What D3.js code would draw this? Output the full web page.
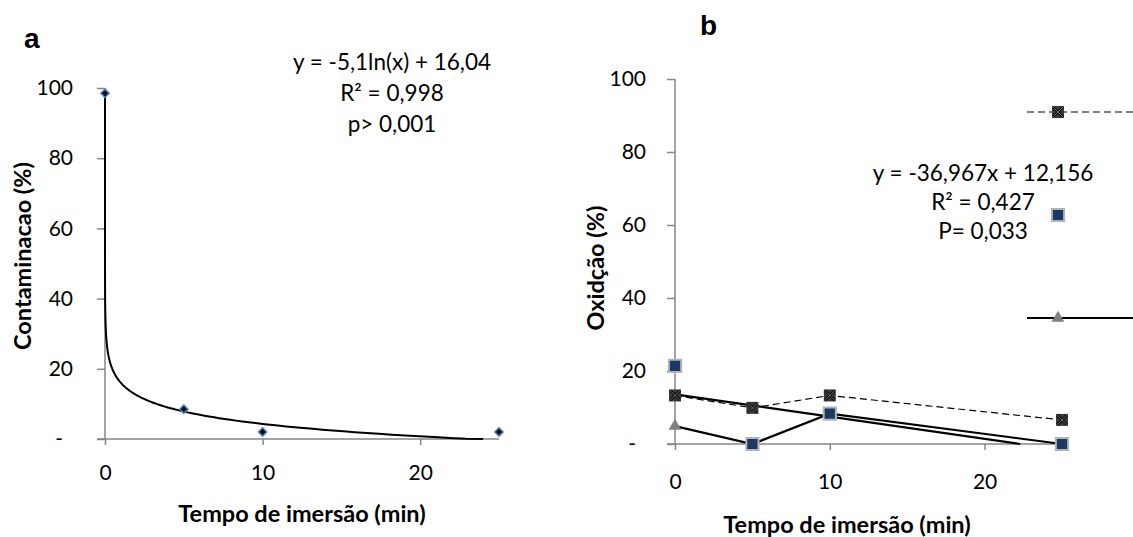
<!DOCTYPE html>
<html>
<head>
<meta charset="utf-8">
<script src="https://cdn.jsdelivr.net/npm/d3@7"></script>
<style>
  body { margin: 0; background: #fff; }
  svg { display: block; }
  text { font-family: Lato, "Open Sans", sans-serif; fill: #000; }
</style>
</head>
<body>
<script>
// panel a: contamination vs immersion time
const timesA = [0, 5, 10, 25];
const contamination = [98.5, 8.5, 2, 2];
const logFit = { a: -5.1, b: 16.04 };
const eqA = ['y = -5,1ln(x) + 16,04', 'R² = 0,998', 'p> 0,001'];

// panel b: oxidation vs immersion time
const timesB = [0, 5, 10, 25];
const oxX = [13.3, 9.9, 13.3, 6.6];      // dashed, x markers
const oxSquare = [21.4, 0, 8.3, 0];      // markers only
const oxTriangle = [4.9, 0, 8.3, 0];     // solid line, triangle markers
const trendB = [[0, 13.6], [22.3, 0]];   // straight trend line
const eqB = ['y = -36,967x + 12,156', 'R² = 0,427', 'P= 0,033'];

const yTicks = [0, 20, 40, 60, 80, 100];
const xTicks = [0, 10, 20];
const axisColor = '#868686';

const W = 1133, H = 537;
const svg = d3.select('body').append('svg').attr('width', W).attr('height', H);

function axes(g, x, y, O) {
    const yAxis = g.append('g')
        .attr('transform', `translate(${x(0)},0)`)
        .call(d3.axisLeft(y).tickValues(yTicks).tickSize(8).tickSizeOuter(0).tickPadding(O.yPad)
            .tickFormat(d => d === 0 ? '-' : d));
    const xAxis = g.append('g')
        .attr('transform', `translate(0,${y(0)})`)
        .call(d3.axisBottom(x).tickValues(xTicks).tickSize(6).tickSizeOuter(0).tickPadding(O.xPad));
    [yAxis, xAxis].forEach(a => {
        a.select('.domain').attr('stroke', axisColor).attr('stroke-width', 1.5);
        a.selectAll('.tick line').attr('stroke', axisColor).attr('stroke-width', 1.5);
        a.selectAll('.tick text').style('font-size', '21px').style('font-family', 'Lato, sans-serif').attr('fill', '#000');
    });
    // excel accounting format: the dash sits left of the digits
    yAxis.selectAll('.tick text').filter(d => d === 0).attr('dx', -10);
    yAxis.select('.domain').attr('d', `M0,${y(0)}V${y(100)}`);
    xAxis.select('.domain').attr('d', `M${x(0) - 8},0H${x(25)}`);
}

function equation(g, lines, cx, y0, dy) {
    lines.forEach((t, i) => {
        g.append('text')
            .attr('x', cx).attr('y', y0 + i * dy)
            .attr('text-anchor', 'middle')
            .style('font-size', '22.5px')
            .text(t);
    });
}

function titles(g, O) {
    g.append('text')
        .attr('x', O.xTitle[0]).attr('y', O.xTitle[1])
        .attr('text-anchor', 'middle')
        .style('font-size', '23.5px').style('font-weight', 'bold')
        .text('Tempo de imersão (min)');
    g.append('text')
        .attr('transform', `translate(${O.yTitle[0]},${O.yTitle[1]}) rotate(-90)`)
        .attr('text-anchor', 'middle')
        .style('font-size', '23.5px').style('font-weight', 'bold')
        .text(O.yLabel);
    g.append('text')
        .attr('x', O.letter[0]).attr('y', O.letter[1])
        .style('font-family', '"Liberation Sans", Arial, sans-serif')
        .style('font-size', '28px').style('font-weight', 'bold')
        .text(O.letterText);
}

// ---- panel a ----
{
    const g = svg.append('g');
    const x = d3.scaleLinear().domain([0, 25]).range([105, 499]);
    const y = d3.scaleLinear().domain([0, 100]).range([439, 88]);
    axes(g, x, y, { yPad: 24, xPad: 20 });

    // log trend line
    const xs = d3.range(-7, Math.log10(25) + 0.0001, 0.02).map(e => Math.pow(10, e));
    const trend = xs.map(v => [v, Math.max(0, logFit.a * Math.log(v) + logFit.b)]);
    g.append('path')
        .datum(trend)
        .attr('fill', 'none').attr('stroke', '#000').attr('stroke-width', 2)
        .attr('d', d3.line().x(d => x(d[0])).y(d => y(d[1])));

    const pts = timesA.map((t, i) => [t, contamination[i]]);
    g.selectAll('.pa').data(pts).join('path')
        .attr('transform', d => `translate(${x(d[0])},${y(d[1])})`)
        .attr('d', d3.symbol(d3.symbolDiamond2, 44)())
        .attr('fill', '#0d0d0d').attr('stroke', '#4f81bd').attr('stroke-width', 1.5);

    equation(g, eqA, 392, 70, 31);
    titles(g, {
        xTitle: [302, 522], yTitle: [31, 256], yLabel: 'Contaminacao (%)',
        letter: [24, 48], letterText: 'a'
    });
}

// ---- panel b ----
{
    const g = svg.append('g');
    const x = d3.scaleLinear().domain([0, 25]).range([675, 1062]);
    const y = d3.scaleLinear().domain([0, 100]).range([444, 79]);
    axes(g, x, y, { yPad: 21, xPad: 24 });

    const line = d3.line().x(d => x(d[0])).y(d => y(d[1]));
    const xSym = d3.symbol(d3.symbolX, 60)();
    const sqSym = d3.symbol(d3.symbolSquare, 150)();
    const triSym = d3.symbol(d3.symbolTriangle, 70)();

    // dashed series
    const ptsX = timesB.map((t, i) => [t, oxX[i]]);
    g.append('path').datum(ptsX)
        .attr('fill', 'none').attr('stroke', '#000').attr('stroke-width', 1.2)
        .attr('stroke-dasharray', '7,4').attr('d', line);

    // triangle series line
    const ptsT = timesB.map((t, i) => [t, oxTriangle[i]]);
    g.append('path').datum(ptsT)
        .attr('fill', 'none').attr('stroke', '#000').attr('stroke-width', 2.2).attr('d', line);

    // straight trend
    g.append('path').datum(trendB)
        .attr('fill', 'none').attr('stroke', '#000').attr('stroke-width', 2.2).attr('d', line);

    const markX = sel => sel
        .each(function () {
            const s = d3.select(this);
            s.append('rect').attr('x', -6).attr('y', -6).attr('width', 12).attr('height', 12).attr('fill', '#3a3a3a');
            s.append('path').attr('d', xSym).attr('stroke', '#000').attr('stroke-width', 2.5);
            s.append('path').attr('d', xSym).attr('stroke', '#9a9a9a').attr('stroke-width', 0.8);
        });
    const markT = sel => sel.append('path').attr('d', triSym).attr('fill', '#808080');
    const markS = sel => sel.append('path').attr('d', sqSym)
        .attr('fill', '#1b3a63').attr('stroke', '#b4b4b4').attr('stroke-width', 2);

    g.selectAll('.pt').data(ptsT).join('g')
        .attr('transform', d => `translate(${x(d[0])},${y(d[1])})`).call(markT);
    g.selectAll('.px').data(ptsX).join('g')
        .attr('transform', d => `translate(${x(d[0])},${y(d[1])})`).call(markX);
    const ptsS = timesB.map((t, i) => [t, oxSquare[i]]);
    g.selectAll('.ps').data(ptsS).join('g')
        .attr('transform', d => `translate(${x(d[0])},${y(d[1])})`).call(markS);

    // legend (cut off at right edge)
    const lg = g.append('g');
    const lx = 1058;
    lg.append('line').attr('x1', 1027).attr('x2', W).attr('y1', 112).attr('y2', 112)
        .attr('stroke', '#000').attr('stroke-width', 1.2).attr('stroke-dasharray', '7,4');
    lg.append('g').attr('transform', `translate(${lx},112)`).call(markX);
    lg.append('g').attr('transform', `translate(${lx},215)`).call(markS);
    lg.append('line').attr('x1', 1027).attr('x2', W).attr('y1', 318).attr('y2', 318)
        .attr('stroke', '#000').attr('stroke-width', 2.2);
    lg.append('g').attr('transform', `translate(${lx},318)`).call(markT);

    equation(g, eqB, 983, 181, 29);
    titles(g, {
        xTitle: [847, 533], yTitle: [604, 268], yLabel: 'Oxidção (%)',
        letter: [700, 35], letterText: 'b'
    });
}
</script>
</body>
</html>
